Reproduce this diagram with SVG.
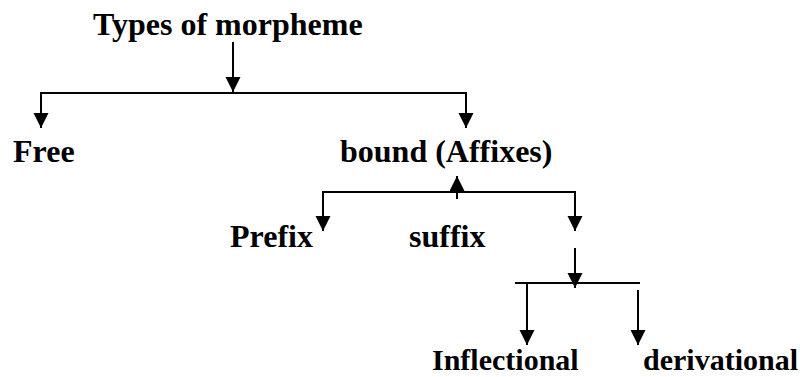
<svg xmlns="http://www.w3.org/2000/svg" width="800" height="377" viewBox="0 0 800 377">
  <style>
    .lbl { font-family: "Liberation Serif", "Times New Roman", serif; font-weight: bold; font-size: 32px; fill: #000; }
    .low { font-size: 30px; }
    .ln { stroke: #000; stroke-width: 2; fill: none; }
    .arr { stroke: #000; stroke-width: 2; fill: none; marker-end: url(#head); }
  </style>
  <defs>
    <marker id="head" markerUnits="userSpaceOnUse" markerWidth="16" markerHeight="16" refX="15" refY="7.5" orient="auto">
      <path d="M0,0 L15,7.5 L0,15 z" fill="#000"/>
    </marker>
  </defs>
  <rect width="800" height="377" fill="#fff"/>

  <g id="connectors">
    <!-- root to first split -->
    <line class="arr" x1="233" y1="42" x2="233" y2="92"/>
    <line class="ln" x1="41" y1="93" x2="466" y2="93"/>
    <line class="arr" x1="41" y1="92" x2="41" y2="128"/>
    <line class="arr" x1="466" y1="92" x2="466" y2="128"/>
    <!-- affix split -->
    <line class="arr" x1="457" y1="199" x2="457" y2="176"/>
    <line class="ln" x1="322" y1="192" x2="576" y2="192"/>
    <line class="arr" x1="323" y1="191" x2="323" y2="231"/>
    <line class="arr" x1="575" y1="191" x2="575" y2="231"/>
    <!-- suffix split -->
    <line class="arr" x1="575" y1="248" x2="575" y2="288"/>
    <line class="ln" x1="515" y1="283" x2="640" y2="283"/>
    <line class="arr" x1="527" y1="282" x2="527" y2="345"/>
    <line class="arr" x1="638" y1="290" x2="638" y2="345"/>
  </g>

  <g id="types"><text class="lbl" x="93" y="35">Types of morpheme</text></g>
  <g id="free"><text class="lbl" x="13" y="162">Free</text></g>
  <g id="bound"><text class="lbl" x="340" y="162">bound (Affixes)</text></g>
  <g id="prefix"><text class="lbl" x="230" y="247">Prefix</text></g>
  <g id="suffix"><text class="lbl" x="409" y="247">suffix</text></g>
  <g id="inflectional"><text class="lbl low" x="432" y="370">Inflectional</text></g>
  <g id="derivational"><text class="lbl low" x="643" y="370">derivational</text></g>
</svg>
